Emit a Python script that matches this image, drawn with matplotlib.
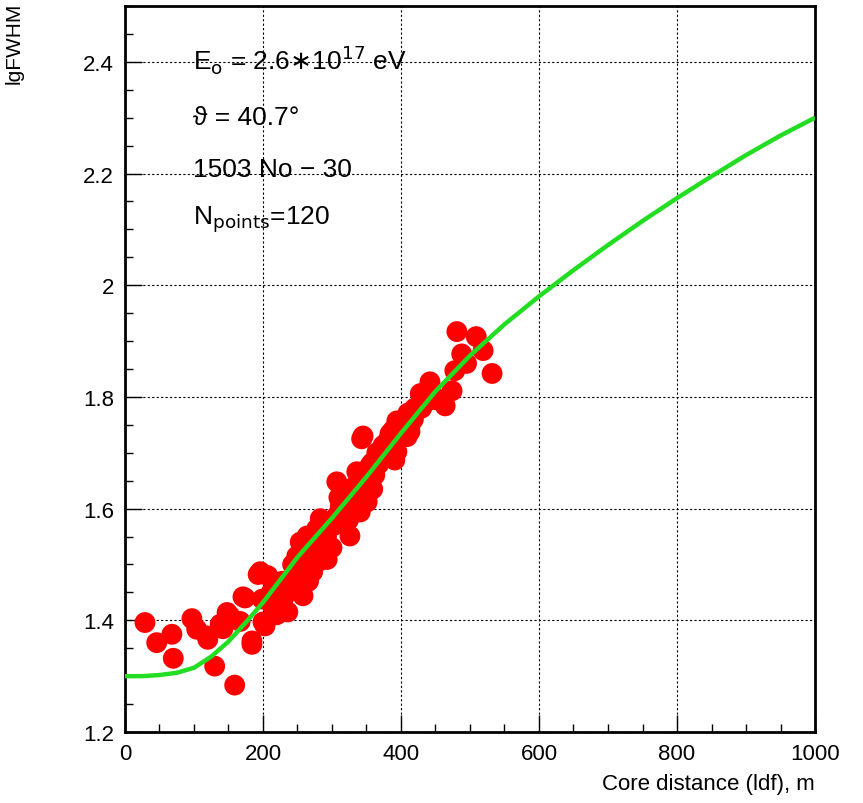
import numpy as np
import matplotlib.pyplot as plt
from matplotlib.ticker import MultipleLocator

# measured points: core distance (m) and lg of FWHM
dist = [29, 46, 68, 70, 97, 104, 119, 120, 130, 138, 142, 148, 152, 159, 167, 171, 174, 184, 184, 193,
        196, 199, 200, 203, 207, 214, 220, 225, 230, 236, 240, 245, 249, 254, 258, 260, 264, 266, 271, 272,
        278, 280, 283, 283, 288, 293, 297, 300, 307, 307, 312, 316, 322, 326, 326, 330, 336, 341, 341, 343,
        345, 351, 355, 358, 359, 362, 365, 370, 374, 377, 384, 390, 391, 394, 394, 400, 409, 410, 413, 413,
        420, 428, 435, 442, 447, 452, 464, 474, 478, 481, 488, 495, 509, 519, 532,
        212, 218, 228, 234, 243, 250, 256, 262, 268, 275, 286, 292, 303, 310, 318, 324, 333, 338, 347, 353,
        368, 380, 388, 398, 404, 418, 430]
lgfwhm = [1.396, 1.360, 1.375, 1.332, 1.403, 1.384, 1.372, 1.366, 1.318, 1.393, 1.385, 1.414, 1.408, 1.284,
          1.398, 1.442, 1.440, 1.357, 1.363, 1.482, 1.487, 1.438, 1.397, 1.390, 1.480, 1.426, 1.410, 1.456,
          1.440, 1.415, 1.460, 1.480, 1.515, 1.540, 1.444, 1.500, 1.551, 1.470, 1.546, 1.487, 1.564, 1.505,
          1.582, 1.541, 1.520, 1.509, 1.569, 1.530, 1.587, 1.648, 1.604, 1.582, 1.600, 1.630, 1.551, 1.610,
          1.666, 1.594, 1.616, 1.725, 1.730, 1.612, 1.677, 1.682, 1.635, 1.660, 1.700, 1.690, 1.713, 1.705,
          1.734, 1.720, 1.687, 1.702, 1.757, 1.740, 1.729, 1.771, 1.748, 1.738, 1.780, 1.806, 1.790, 1.827,
          1.795, 1.797, 1.784, 1.811, 1.847, 1.917, 1.877, 1.860, 1.908, 1.883, 1.842,
          1.45, 1.44, 1.47, 1.45, 1.50, 1.49, 1.52, 1.52, 1.53, 1.52, 1.56, 1.55, 1.57, 1.62, 1.62, 1.58,
          1.64, 1.63, 1.66, 1.65, 1.68, 1.72, 1.74, 1.75, 1.76, 1.76, 1.78]

# fitted curve
fit_x = [0, 25, 50, 75, 100, 125, 150, 175, 200, 250, 300, 350, 400, 450, 500, 550, 600, 650, 700,
         750, 800, 850, 900, 950, 1000]
fit_y = [1.300, 1.300, 1.302, 1.306, 1.315, 1.335, 1.362, 1.396, 1.432, 1.513, 1.583, 1.657, 1.735,
         1.810, 1.874, 1.930, 1.980, 2.027, 2.072, 2.115, 2.156, 2.195, 2.233, 2.268, 2.300]

fig = plt.figure(figsize=(8.63, 8.04), dpi=100)
ax = fig.add_axes([0.1448, 0.0883, 0.7996, 0.9030])

ax.scatter(dist, lgfwhm, s=225, color='#ff0000', edgecolors='none', zorder=3)
ax.plot(fit_x, fit_y, color='#22dd22', linewidth=3.2, zorder=4, solid_capstyle='butt')

ax.set_xlim(0, 1000)
ax.set_ylim(1.2, 2.5)
ax.xaxis.set_major_locator(MultipleLocator(200))
ax.xaxis.set_minor_locator(MultipleLocator(50))
ax.yaxis.set_major_locator(MultipleLocator(0.2))
ax.yaxis.set_minor_locator(MultipleLocator(0.05))
ax.yaxis.set_major_formatter(plt.FuncFormatter(lambda v, p: ('%.1f' % v).rstrip('0').rstrip('.')))

ax.grid(True, which='major', color='black', linestyle=(0, (2, 2)), linewidth=0.8)
ax.set_axisbelow(True)
for s in ax.spines.values():
    s.set_linewidth(2)

ax.tick_params(which='both', direction='in', top=False, right=False)
ax.tick_params(which='major', length=12, width=1, pad=8)
ax.tick_params(which='minor', length=6, width=1)
for lab in ax.get_yticklabels():
    lab.set_family(['Liberation Sans', 'DejaVu Sans'])
    lab.set_fontsize(16)
for lab in ax.get_xticklabels():
    lab.set_family(['Liberation Sans Narrow', 'Liberation Sans'])
    lab.set_fontsize(16)

fig.text(0.9444, 0.024, 'Core distance (ldf), m', ha='right', va='center', fontsize=16,
         family=['Liberation Sans Narrow', 'Liberation Sans'])
fig.text(0.016, 0.997, 'lgFWHM', ha='center', va='top', rotation=90, fontsize=15,
         family=['Liberation Sans', 'DejaVu Sans'])

tf = ['Liberation Sans', 'DejaVu Sans']
ax.text(98, 2.406, r'E$_{\mathrm{o}}$ = 2.6$\ast$10$^{17}$ eV', fontsize=19, va='center', family=tf)
ax.text(98, 2.302, 'ϑ = 40.7°', fontsize=19, va='center', family=tf)
ax.text(98, 2.209, '1503 No − 30', fontsize=19, va='center', family=tf)
ax.text(98, 2.119, r'N$_{\mathrm{points}}$=120', fontsize=19, va='center', family=tf)

plt.savefig('out.png', dpi=100)
